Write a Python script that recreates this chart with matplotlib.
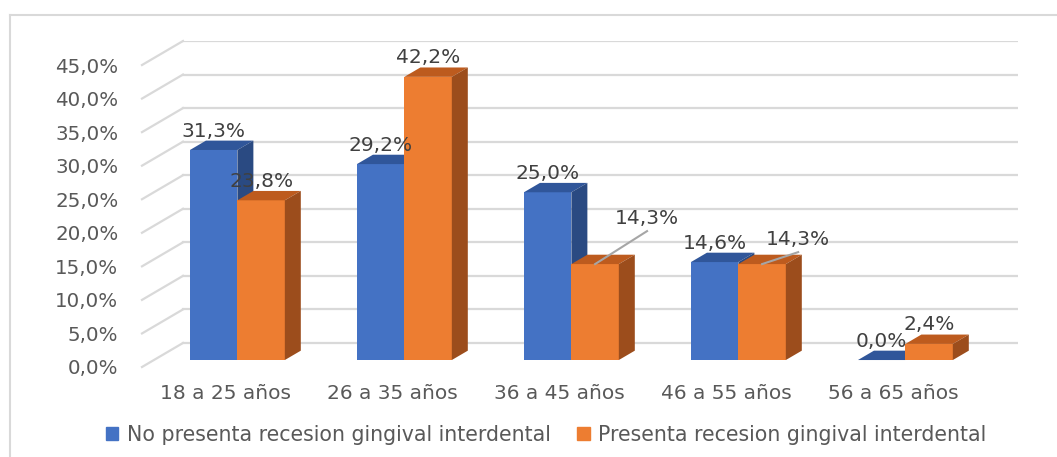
import matplotlib
matplotlib.use("Agg")
import matplotlib.pyplot as plt
from matplotlib.patches import Polygon, Patch
from matplotlib.lines import Line2D

categories = ["18 a 25 años", "26 a 35 años", "36 a 45 años", "46 a 55 años", "56 a 65 años"]
no_presenta = [31.3, 29.2, 25.0, 14.6, 0.0]
presenta = [23.8, 42.2, 14.3, 14.3, 2.4]
series_names = ["No presenta recesion gingival interdental", "Presenta recesion gingival interdental"]
y_ticks = [0, 5, 10, 15, 20, 25, 30, 35, 40, 45]

# colours: front, top, side
blue = ("#4472C4", "#30569a", "#2a4a82")
orange = ("#ED7D31", "#bd5b1e", "#9c4d1c")

# fake 3d: depth offset of the floor in data units (category, percent)
DX = 0.2455
DY = 3.58
F1, F2 = 0.29, 0.68   # bar front / back as fraction of floor depth
W = 0.284             # bar width

fig = plt.figure(figsize=(10.57, 4.57), dpi=100)
ax = fig.add_axes([142 / 1057, 90 / 457, 876 / 1057, 326 / 457])
ax.set_xlim(-0.5, 4.5 + DX)
ax.set_ylim(0, 45 + DY)
for s in ax.spines.values():
    s.set_visible(False)

# back wall + left wall gridlines
grid_c = "#d9d9d9"
for t in y_ticks:
    ax.plot([-0.5 + DX, 4.5 + DX], [t + DY, t + DY], color=grid_c, lw=1.6, zorder=0)
    ax.plot([-0.5, -0.5 + DX], [t, t + DY], color=grid_c, lw=1.6, zorder=0, clip_on=False)

ox, oy = F1 * DX, F1 * DY
ddx, ddy = (F2 - F1) * DX, (F2 - F1) * DY


def draw_bar(x0, v, cols, z):
    x1 = x0 + W
    yb, yt = oy, oy + v
    ax.bar(x0 + ox, v, width=W, bottom=oy, align="edge", color=cols[0], lw=0, zorder=z)
    top = [(x0 + ox, yt), (x1 + ox, yt), (x1 + ox + ddx, yt + ddy), (x0 + ox + ddx, yt + ddy)]
    side = [(x1 + ox, yb), (x1 + ox + ddx, yb + ddy), (x1 + ox + ddx, yt + ddy), (x1 + ox, yt)]
    ax.add_patch(Polygon(top, closed=True, fc=cols[1], lw=0, zorder=z))
    ax.add_patch(Polygon(side, closed=True, fc=cols[2], lw=0, zorder=z))


def fmt(v):
    return f"{v:.1f}".replace(".", ",") + "%"


lbl_font = dict(family="DejaVu Sans", fontsize=14.5, color="#404040")
# labels moved off the bar, with leader lines (offset in category, percent)
moved = {(1, 2): (0.311, 6.86), (1, 3): (0.216, 3.73)}

for i in range(len(categories)):
    for k, (vals, cols) in enumerate([(no_presenta, blue), (presenta, orange)]):
        x0 = i - W if k == 0 else i
        v = vals[i]
        draw_bar(x0, v, cols, 2 + k + 2 * i)
        cx = x0 + ox + W / 2
        ty = oy + v
        if (k, i) in moved:
            mx, my = moved[(k, i)]
            ax.plot([cx, cx + mx], [ty, ty + my - 1.95], color="#a6a6a6", lw=1.5, zorder=20)
            ax.text(cx + mx, ty + my, fmt(v), ha="center", va="center", zorder=21, **lbl_font)
        else:
            ax.text(cx, ty + 2.83, fmt(v), ha="center", va="center", zorder=21, **lbl_font)

ax.set_yticks(y_ticks)
ax.set_yticklabels([fmt(t) for t in y_ticks], family="DejaVu Sans", fontsize=14.3, color="#595959")
ax.set_xticks(range(len(categories)))
ax.set_xticklabels(categories, family="DejaVu Sans", fontsize=14.5, color="#595959")
ax.tick_params(axis="y", length=0, pad=17)
ax.tick_params(axis="x", length=0, pad=12)

handles = [Patch(color=blue[0]), Patch(color=orange[0])]
fig.legend(handles, series_names, loc="center", bbox_to_anchor=(546 / 1057, 22 / 457), ncol=2,
           frameon=False, handlelength=0.6, handleheight=0.6, handletextpad=0.4, columnspacing=1.3,
           prop=dict(family="DejaVu Sans", size=14.8), labelcolor="#595959")

# chart frame (top and left edges visible)
fig.add_artist(Line2D([10 / 1057, 1], [1 - 15 / 457, 1 - 15 / 457], color="#d9d9d9", lw=1.5))
fig.add_artist(Line2D([10 / 1057, 10 / 1057], [0, 1 - 15 / 457], color="#d9d9d9", lw=1.5))

fig.savefig("out.png", dpi=100)
